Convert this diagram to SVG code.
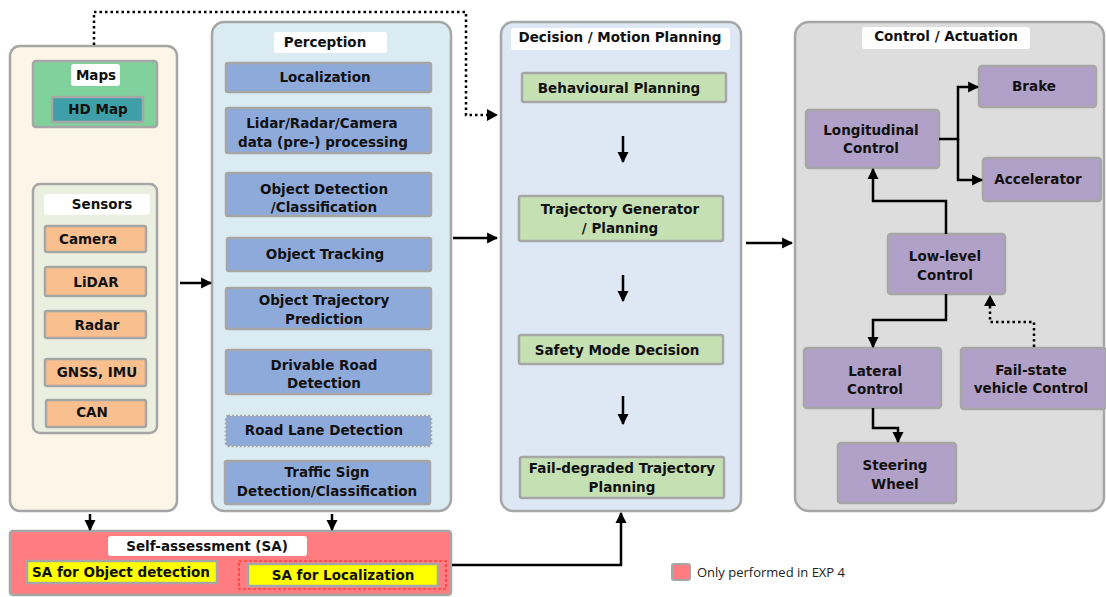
<svg xmlns="http://www.w3.org/2000/svg" width="1106" height="597" viewBox="0 0 1106 597">
<defs>
<marker id="ah" viewBox="0 0 10 10" refX="9" refY="5" markerWidth="11" markerHeight="12" markerUnits="userSpaceOnUse" orient="auto">
<path d="M0,0 L10,5 L0,10 z" fill="#000"/>
</marker>
<style>
.cont{stroke:#a6a6a6;stroke-width:2.5}
.box{stroke:#a6a6a6;stroke-width:2.5}
.t{font-family:"DejaVu Sans","Verdana",sans-serif;font-weight:bold;font-size:13.5px;fill:#111;text-anchor:middle}
.lbl{fill:#fff}
.c{fill:none;stroke:#000;stroke-width:2.5}
.d{fill:none;stroke:#000;stroke-width:2.5;stroke-dasharray:2.5 3}
</style>
</defs>
<rect width="1106" height="597" fill="#fff"/>

<g id="left">
<rect class="cont" x="10" y="46" width="167" height="465" rx="10" fill="#fdf6e8"/>
</g>
<g id="maps">
<rect class="box" x="33" y="61" width="124" height="66" rx="3" fill="#80d19b"/>
<rect class="lbl" x="71" y="64" width="49" height="22" rx="3"/>
<text class="t" x="96" y="80">Maps</text>
</g>
<g id="hdmap">
<rect class="box" x="52" y="97" width="91" height="25" rx="2" fill="#3e9fa9"/>
<text class="t" x="98" y="114">HD Map</text>
</g>
<g id="sensors">
<rect class="box" x="33" y="184" width="124" height="249" rx="7" fill="#ebefdf"/>
<rect class="lbl" x="44" y="194" width="106" height="21" rx="3"/>
<text class="t" x="102" y="209">Sensors</text>
</g>
<g id="camera"><rect class="box" x="45" y="226" width="101" height="26" rx="2" fill="#f9bf8f"/><text class="t" x="88" y="244">Camera</text></g>
<g id="lidar"><rect class="box" x="45" y="267" width="101" height="29" rx="2" fill="#f9bf8f"/><text class="t" x="96" y="287">LiDAR</text></g>
<g id="radar"><rect class="box" x="45" y="311" width="101" height="27" rx="2" fill="#f9bf8f"/><text class="t" x="97" y="330">Radar</text></g>
<g id="gnss"><rect class="box" x="45" y="359" width="101" height="27" rx="2" fill="#f9bf8f"/><text class="t" x="97" y="377">GNSS, IMU</text></g>
<g id="can"><rect class="box" x="46" y="400" width="100" height="27" rx="2" fill="#f9bf8f"/><text class="t" x="92" y="417">CAN</text></g>

<g id="perception">
<rect class="cont" x="212" y="22" width="239" height="489" rx="12" fill="#daebf2"/>
<rect class="lbl" x="274" y="32" width="113" height="21" rx="3"/>
<text class="t" x="325" y="47">Perception</text>
</g>
<g id="localization"><rect class="box" x="226" y="63" width="205" height="29" rx="2" fill="#8eaadb"/><text class="t" x="325" y="82">Localization</text></g>
<g id="preproc"><rect class="box" x="226" y="108" width="205" height="45" rx="2" fill="#8eaadb"/><text class="t" x="322" y="128">Lidar/Radar/Camera</text><text class="t" x="323" y="147">data (pre-) processing</text></g>
<g id="objdet"><rect class="box" x="226" y="173" width="205" height="43" rx="2" fill="#8eaadb"/><text class="t" x="324" y="194">Object Detection</text><text class="t" x="324" y="212">/Classification</text></g>
<g id="objtrack"><rect class="box" x="227" y="238" width="204" height="33" rx="2" fill="#8eaadb"/><text class="t" x="325" y="259">Object Tracking</text></g>
<g id="objpred"><rect class="box" x="226" y="288" width="205" height="41" rx="2" fill="#8eaadb"/><text class="t" x="324" y="305">Object Trajectory</text><text class="t" x="324" y="324">Prediction</text></g>
<g id="drivable"><rect class="box" x="226" y="350" width="205" height="44" rx="2" fill="#8eaadb"/><text class="t" x="324" y="370">Drivable Road</text><text class="t" x="324" y="388">Detection</text></g>
<g id="lane"><rect x="226" y="416" width="205" height="30" rx="2" fill="#8eaadb" stroke="#a6a6a6" stroke-width="2.5" stroke-dasharray="2 2"/><text class="t" x="324" y="435">Road Lane Detection</text></g>
<g id="traffic"><rect class="box" x="225" y="461" width="205" height="43" rx="2" fill="#8eaadb"/><text class="t" x="327" y="477">Traffic Sign</text><text class="t" x="327" y="496">Detection/Classification</text></g>

<g id="decision">
<rect class="cont" x="501" y="22" width="240" height="489" rx="12" fill="#dde8f4"/>
<rect class="lbl" x="511" y="28" width="219" height="22" rx="3"/>
<text class="t" x="620" y="42">Decision / Motion Planning</text>
</g>
<g id="behav"><rect class="box" x="522" y="73" width="204" height="29" rx="2" fill="#c5e0b3"/><text class="t" x="619" y="93">Behavioural Planning</text></g>
<g id="trajgen"><rect class="box" x="519" y="196" width="204" height="45" rx="2" fill="#c5e0b3"/><text class="t" x="620" y="214">Trajectory Generator</text><text class="t" x="620" y="233">/ Planning</text></g>
<g id="safety"><rect class="box" x="519" y="335" width="204" height="29" rx="2" fill="#c5e0b3"/><text class="t" x="617" y="355">Safety Mode Decision</text></g>
<g id="faildeg"><rect class="box" x="520" y="457" width="204" height="41" rx="2" fill="#c5e0b3"/><text class="t" x="622" y="473">Fail-degraded Trajectory</text><text class="t" x="622" y="492">Planning</text></g>

<g id="control">
<rect class="cont" x="795" y="22" width="309" height="489" rx="14" fill="#dddddd"/>
<rect class="lbl" x="862" y="27" width="168" height="22" rx="3"/>
<text class="t" x="946" y="41">Control / Actuation</text>
</g>
<g id="brake"><rect class="box" x="979" y="66" width="117" height="41" rx="3" fill="#b1a0c7"/><text class="t" x="1034" y="91">Brake</text></g>
<g id="longi"><rect class="box" x="806" y="110" width="133" height="58" rx="3" fill="#b1a0c7"/><text class="t" x="871" y="135">Longitudinal</text><text class="t" x="871" y="153">Control</text></g>
<g id="accel"><rect class="box" x="983" y="158" width="118" height="43" rx="3" fill="#b1a0c7"/><text class="t" x="1038" y="184">Accelerator</text></g>
<g id="lowlevel"><rect class="box" x="888" y="234" width="117" height="60" rx="3" fill="#b1a0c7"/><text class="t" x="945" y="261">Low-level</text><text class="t" x="945" y="280">Control</text></g>
<g id="lateral"><rect class="box" x="804" y="348" width="137" height="60" rx="3" fill="#b1a0c7"/><text class="t" x="875" y="376">Lateral</text><text class="t" x="875" y="394">Control</text></g>
<g id="failstate"><rect class="box" x="961" y="348" width="145" height="61" rx="3" fill="#b1a0c7"/><text class="t" x="1031" y="375">Fail-state</text><text class="t" x="1031" y="393">vehicle Control</text></g>
<g id="steering"><rect class="box" x="838" y="443" width="118" height="60" rx="3" fill="#b1a0c7"/><text class="t" x="895" y="470">Steering</text><text class="t" x="895" y="489">Wheel</text></g>

<g id="sa">
<rect class="box" x="10" y="531" width="441" height="64" rx="3" fill="#ff7c80"/>
<rect class="lbl" x="108" y="536" width="199" height="20" rx="3"/>
<text class="t" x="207" y="551">Self-assessment (SA)</text>
</g>
<g id="saobj"><rect class="box" x="27" y="561" width="190" height="22" fill="#ffff00"/><text class="t" x="121" y="577">SA for Object detection</text></g>
<g id="saloc">
<rect x="239" y="561" width="207" height="28" fill="none" stroke="#ff2020" stroke-width="1.2" stroke-dasharray="3 2"/>
<rect class="box" x="248" y="564" width="190" height="22" fill="#ffff00"/>
<text class="t" x="343" y="580">SA for Localization</text>
</g>

<g id="legend">
<rect x="672" y="564" width="18" height="16" rx="2" fill="#ff7c80" stroke="#a6a6a6" stroke-width="2"/>
<text x="697" y="577" font-family="'Open Sans','Liberation Sans',sans-serif" font-size="13" fill="#222">Only performed in EXP 4</text>
</g>

<g id="connectors">
<path class="d" d="M94,45 V12 H466 V115 H488"/>
<path d="M487,109 L498,115 L487,121 z" fill="#000"/>
<path class="c" d="M180,283 H211" marker-end="url(#ah)"/>
<path class="c" d="M453,238 H497" marker-end="url(#ah)"/>
<path class="c" d="M746,243 H792" marker-end="url(#ah)"/>
<path class="c" d="M623,136 V162" marker-end="url(#ah)"/>
<path class="c" d="M623,275 V301" marker-end="url(#ah)"/>
<path class="c" d="M623,396 V424" marker-end="url(#ah)"/>
<path class="c" d="M90,514 V530" marker-end="url(#ah)"/>
<path class="c" d="M332,514 V530" marker-end="url(#ah)"/>
<path class="c" d="M452,565 H621 V513" marker-end="url(#ah)"/>
<path class="c" d="M939,139 H958 V87 H978" marker-end="url(#ah)"/>
<path class="c" d="M958,139 V180 H982" marker-end="url(#ah)"/>
<path class="c" d="M946,234 V201 H873 V169" marker-end="url(#ah)"/>
<path class="c" d="M946,294 V320 H873 V347" marker-end="url(#ah)"/>
<path class="d" d="M1034,347 V322 H990 V306"/>
<path d="M984,306 L990,295 L996,306 z" fill="#000"/>
<path class="c" d="M873,408 V428 H898 V442" marker-end="url(#ah)"/>
</g>
</svg>
